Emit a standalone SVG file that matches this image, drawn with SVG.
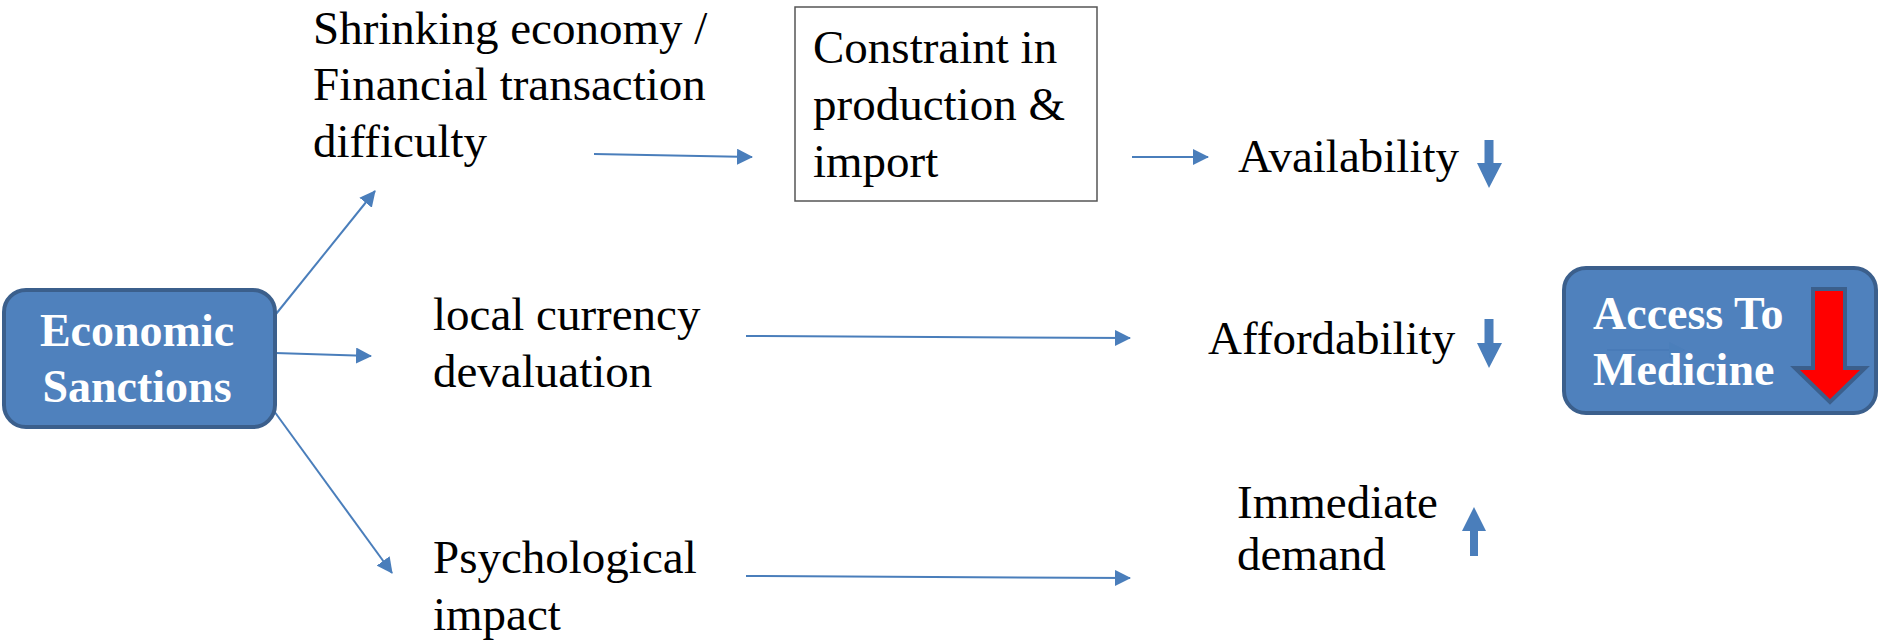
<svg xmlns="http://www.w3.org/2000/svg" width="1879" height="643" viewBox="0 0 1879 643">
<style>
.t{font-family:"Liberation Serif","Times New Roman",serif;font-size:47px;fill:#000}
.b{font-family:"Liberation Serif","Times New Roman",serif;font-size:46px;font-weight:bold;fill:#fff}
.c{stroke:#4a7ebb;stroke-width:2;fill:none}
.blue{fill:#4a7ebb}
</style>
<defs>
<marker id="ah" markerWidth="8" markerHeight="8" refX="7.5" refY="4" orient="auto" markerUnits="strokeWidth">
<path d="M0,0 L8,4 L0,8 Z" fill="#4a7ebb"/>
</marker>
</defs>
<rect width="1879" height="643" fill="#fff"/>
<g id="connectors">
<line class="c" x1="276" y1="314" x2="375" y2="191" marker-end="url(#ah)"/>
<line class="c" x1="275" y1="353" x2="371" y2="356" marker-end="url(#ah)"/>
<line class="c" x1="274" y1="411" x2="392" y2="573" marker-end="url(#ah)"/>
<line class="c" x1="594" y1="154" x2="752" y2="157" marker-end="url(#ah)"/>
<line class="c" x1="1132" y1="157" x2="1208" y2="157" marker-end="url(#ah)"/>
<line class="c" x1="746" y1="336" x2="1130" y2="338" marker-end="url(#ah)"/>
<line class="c" x1="746" y1="576" x2="1130" y2="578" marker-end="url(#ah)"/>
</g>
<g id="economic-sanctions">
<rect x="4" y="290" width="271" height="137" rx="22" fill="#4f81bd" stroke="#3b5f8c" stroke-width="4"/>
<text class="b" x="137" y="346" text-anchor="middle">Economic</text>
<text class="b" x="137" y="402" text-anchor="middle">Sanctions</text>
</g>
<g id="shrinking-economy">
<text class="t" x="313" y="44">Shrinking economy /</text>
<text class="t" x="313" y="100">Financial transaction</text>
<text class="t" x="313" y="157">difficulty</text>
</g>
<g id="local-currency">
<text class="t" x="433" y="330">local currency</text>
<text class="t" x="433" y="387">devaluation</text>
</g>
<g id="psychological-impact">
<text class="t" x="433" y="573">Psychological</text>
<text class="t" x="433" y="630">impact</text>
</g>
<g id="constraint">
<rect x="795" y="7" width="302" height="194" fill="#fff" stroke="#555" stroke-width="1.5"/>
<text class="t" x="813" y="63">Constraint in</text>
<text class="t" x="813" y="120">production &amp;</text>
<text class="t" x="813" y="177">import</text>
</g>
<g id="availability">
<text class="t" x="1238" y="172">Availability</text>
<polygon class="blue" points="1484.5,140 1493.5,140 1493.5,163 1502,163 1489,188 1477,163 1484.5,163"/>
</g>
<g id="affordability">
<text class="t" x="1208" y="354">Affordability</text>
<polygon class="blue" points="1484.5,319 1493.5,319 1493.5,343 1502,343 1489,368 1477,343 1484.5,343"/>
</g>
<g id="immediate-demand">
<text class="t" x="1237" y="518">Immediate</text>
<text class="t" x="1237" y="570">demand</text>
<polygon class="blue" points="1470,556 1478,556 1478,531 1486,531 1474,507 1462,531 1470,531"/>
</g>
<g id="access-to-medicine">
<rect x="1564" y="268" width="312" height="145" rx="22" fill="#4f81bd" stroke="#3b5f8c" stroke-width="4"/>
<line x1="1607" y1="350" x2="1684" y2="350" stroke="#4678b5" stroke-width="2" marker-end="url(#ah)" opacity="0.6"/>
<polygon points="1813,289 1845,289 1845,368 1865,368 1830,402 1795,368 1813,368" fill="#ff0000" stroke="#3b5f8c" stroke-width="4" stroke-linejoin="miter"/>
<text class="b" x="1593" y="329">Access To</text>
<text class="b" x="1593" y="385">Medicine</text>
</g>
</svg>
